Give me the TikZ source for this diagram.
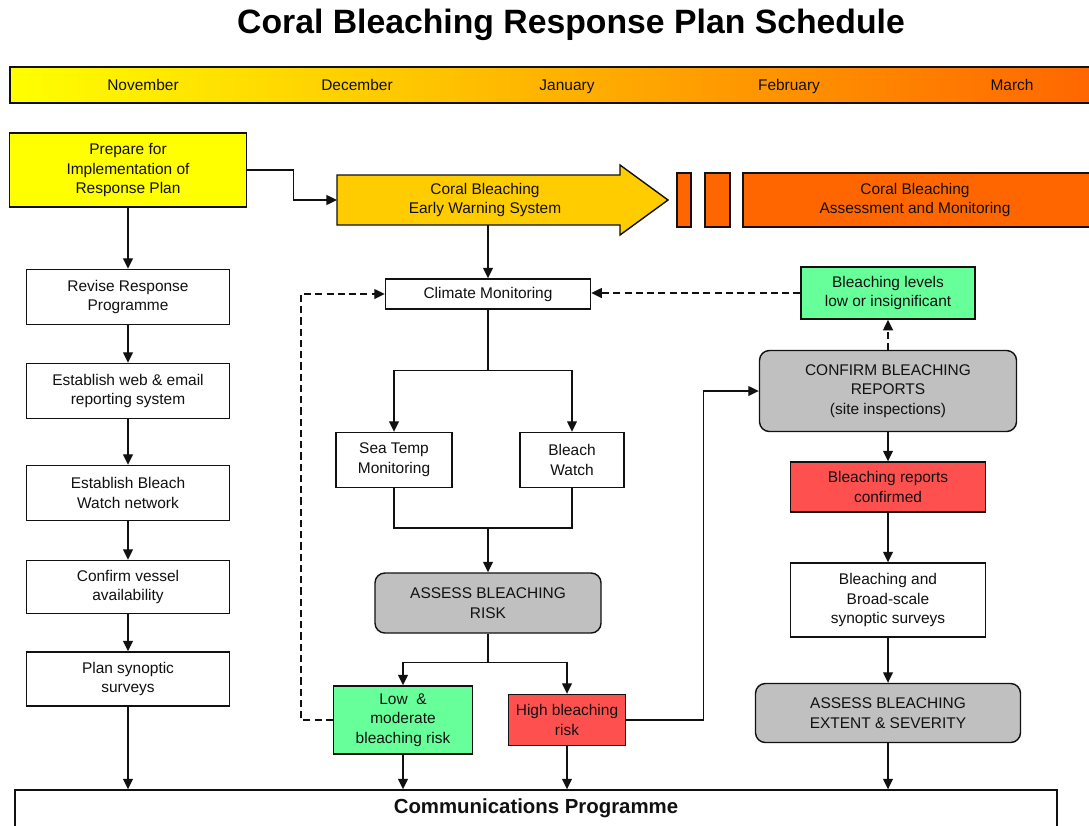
\documentclass[tikz,border=0pt]{standalone}
\usepackage{fontspec}
\setmainfont{Liberation Sans}
\usetikzlibrary{arrows.meta,positioning,calc}
\definecolor{CBYellow}{HTML}{FFFF00}
\definecolor{CBGold}{HTML}{FFCC00}
\definecolor{CBOrange}{HTML}{FF6600}
\definecolor{CBGreen}{HTML}{66FF99}
\definecolor{CBRed}{HTML}{FF5050}
\definecolor{CBGrey}{HTML}{C0C0C0}
\definecolor{CBInk}{HTML}{111111}
\newlength\px
\setlength\px{0.025cm}

\begin{document}
\begin{tikzpicture}[
  x=0.025cm, y=-0.025cm,
  txt/.style={font=\fontsize{11}{14}\selectfont, align=center, text=CBInk},
  box/.style={txt, draw=CBInk, line width=1pt, fill=white, inner sep=0pt},
  grey/.style={box, fill=CBGrey, rounded corners=7pt},
  green/.style={box, fill=CBGreen},
  red/.style={box, fill=CBRed},
  month/.style={txt, anchor=base},
  arr/.style={line width=1pt, draw=CBInk, -{Triangle[length=7.5pt,width=7pt]}},
  link/.style={line width=1pt, draw=CBInk},
  back/.style={dash pattern=on 5pt off 3pt},
]
\useasboundingbox (0,0) rectangle (1089,825);

% --- Title ---
\node[font=\fontsize{24}{28}\selectfont\bfseries] (title) at (571,25)
  {Coral Bleaching Response Plan Schedule};

% --- Month bar ---
\shade[left color=CBYellow, right color=CBOrange] (10,67) rectangle (1095,103);
\draw[line width=1pt, CBInk] (10,67) rectangle (1095,103);
\foreach \x/\m in {143/November, 357/December, 567/January, 789/February, 1012/March}
  \node[month] (m-\m) at (\x,90) {\m};

% --- Phases ---
\node[box, fill=CBYellow, minimum width=237\px, minimum height=74\px] (prep) at (128,170)
  {Prepare for\\Implementation of\\Response Plan};

% early warning arrow
\fill[CBGold, draw=CBInk, line width=1pt]
  (337,175) -- (620,175) -- (620,165) -- (668,200) -- (620,235)
  -- (620,225) -- (337,225) -- cycle;
\node[txt, minimum width=283\px, minimum height=50\px, inner sep=0pt] (ews) at (485,200)
  {Coral Bleaching\\Early Warning System};

% assessment phase
\draw[fill=CBOrange, draw=CBInk, line width=1pt] (677,173) rectangle (691,227);
\draw[fill=CBOrange, draw=CBInk, line width=1pt] (705,173) rectangle (730,227);
\draw[fill=CBOrange, draw=CBInk, line width=1pt] (743,173) rectangle (1095,227);
\node[txt] (assess) at (915,200) {Coral Bleaching\\Assessment and Monitoring};

\draw[arr] (prep.east) -- ++(46,0) |- (337,200);

% --- Left column ---
\node[box, minimum width=203\px, minimum height=55\px] (revise) at (128,297)
  {Revise Response\\Programme};
\node[box, minimum width=203\px, minimum height=55\px] (web) at (128,391)
  {Establish web \& email\\reporting system};
\node[box, minimum width=203\px, minimum height=55\px] (network) at (128,493)
  {Establish Bleach\\Watch network};
\node[box, minimum width=203\px, minimum height=53\px] (vessel) at (128,587)
  {Confirm vessel\\availability};
\node[box, minimum width=203\px, minimum height=54\px] (plan) at (128,679)
  {Plan synoptic\\surveys};

\draw[arr] (prep.south) -- (revise.north);
\draw[arr] (revise.south) -- (web.north);
\draw[arr] (web.south) -- (network.north);
\draw[arr] (network.south) -- (vessel.north);
\draw[arr] (vessel.south) -- (plan.north);

% --- Middle column ---
\node[box, minimum width=205\px, minimum height=30\px] (clim) at (488,294)
  {Climate Monitoring};
\node[box, minimum width=116\px, minimum height=55\px] (sea) at (394,460)
  {Sea Temp\\Monitoring};
\node[box, minimum width=104\px, minimum height=55\px] (watch) at (572,460)
  {Bleach\\Watch};
\node[grey, minimum width=226\px, minimum height=60\px] (risk) at (488,603)
  {ASSESS BLEACHING\\RISK};
\node[green, minimum width=139\px, minimum height=68\px] (low) at (403,720)
  {Low~ \&\\moderate\\bleaching risk};
\node[red, minimum width=117\px, minimum height=51\px] (high) at (567,720)
  {High bleaching\\risk};

\draw[arr] (ews.south -| clim.north) -- (clim.north);
\draw[link] (clim.south) -- ++(0,61) coordinate (split1);
\draw[arr] (split1) -| (sea.north);
\draw[arr] (split1) -| (watch.north);
\coordinate (join) at (488,528);
\draw[link] (sea.south) |- (join) -| (watch.south);
\draw[arr] (join) -- (risk.north);
\draw[link] (risk.south) -- ++(0,29) coordinate (split2);
\draw[arr] (split2) -| (low.north);
\draw[arr] (split2) -| (high.north);
\draw[arr, back] (low.west) -- ++(-32,0) |- (clim.west);

% --- Right column ---
\node[green, minimum width=174\px, minimum height=52\px] (levels) at (888,293)
  {Bleaching levels\\low or insignificant};
\node[grey, minimum width=257\px, minimum height=81\px] (confirm) at (888,391)
  {CONFIRM BLEACHING\\REPORTS\\(site inspections)};
\node[red, minimum width=195\px, minimum height=50\px] (reports) at (888,487)
  {Bleaching reports\\confirmed};
\node[box, minimum width=195\px, minimum height=74\px] (broad) at (888,600)
  {Bleaching and\\Broad-scale\\synoptic surveys};
\node[grey, minimum width=265\px, minimum height=59\px] (extent) at (888,713)
  {ASSESS BLEACHING\\EXTENT \& SEVERITY};

\draw[arr, back] (levels.west) -- (levels.west -| clim.east);
\draw[arr, back] (confirm.north) -- (levels.south);
\draw[arr] (high.east) -- ++(77,0) |- (confirm.west);
\draw[arr] (confirm.south) -- (reports.north);
\draw[arr] (reports.south) -- (broad.north);
\draw[arr] (broad.south) -- (extent.north);

% --- Communications ---
\node[box, font=\fontsize{14.5}{17}\selectfont\bfseries, minimum width=1042\px,
  minimum height=37\px] (comms) at (536,808.5) {Communications Programme};

\draw[arr] (plan.south) -- (plan.south |- comms.north);
\draw[arr] (low.south) -- (low.south |- comms.north);
\draw[arr] (high.south) -- (high.south |- comms.north);
\draw[arr] (extent.south) -- (extent.south |- comms.north);

\end{tikzpicture}
\end{document}
